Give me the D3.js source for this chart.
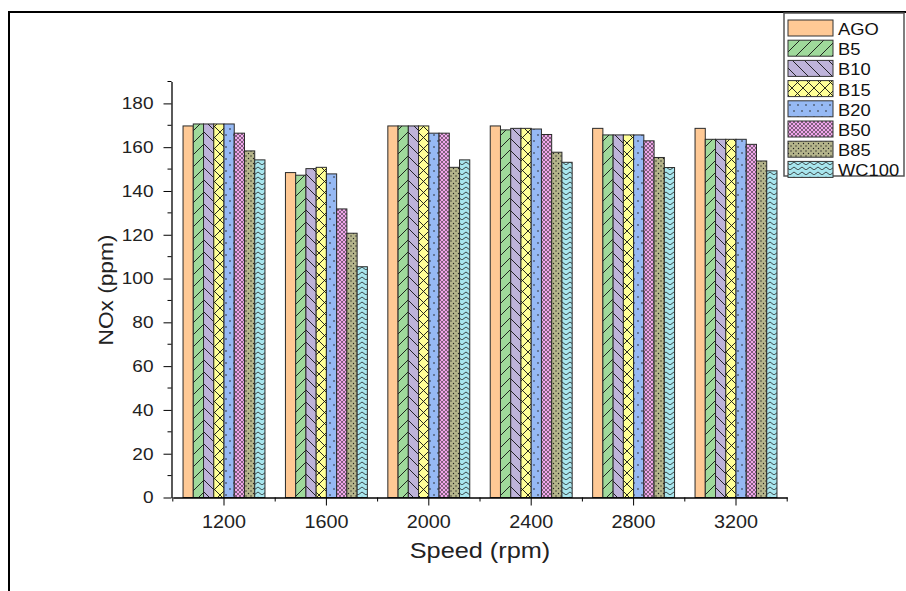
<!DOCTYPE html>
<html>
<head>
<meta charset="utf-8">
<script src="https://cdn.jsdelivr.net/npm/d3@7"></script>
<style>
  body { margin: 0; background: #fff; }
  text { font-family: "Liberation Sans", Arial, sans-serif; fill: #222; }
</style>
</head>
<body>
<div id="chart"></div>
<script>
var speeds = ["1200", "1600", "2000", "2400", "2800", "3200"];
var fuels = ["AGO", "B5", "B10", "B15", "B20", "B50", "B85", "WC100"];
var AGO   = [169.7, 148.4, 169.7, 169.7, 168.6, 168.6];
var B5    = [170.6, 147.2, 169.7, 167.9, 165.6, 163.6];
var B10   = [170.6, 150.2, 169.7, 168.6, 165.6, 163.6];
var B15   = [170.6, 150.8, 169.7, 168.6, 165.6, 163.6];
var B20   = [170.6, 147.8, 166.4, 168.3, 165.6, 163.6];
var B50   = [166.4, 131.8, 166.4, 165.8, 162.9, 161.3];
var B85   = [158.3, 120.7, 150.8, 157.7, 155.3, 153.7];
var WC100 = [154.2, 105.4, 154.2, 153.1, 150.7, 149.2];
var yTicks = [0, 20, 40, 60, 80, 100, 120, 140, 160, 180];

var seriesValues = { AGO: AGO, B5: B5, B10: B10, B15: B15, B20: B20, B50: B50, B85: B85, WC100: WC100 };
var fills = {
    AGO: "#FFC995", B5: "#9FD99B", B10: "#BEB3DA", B15: "#FFFF96",
    B20: "#96B9F4", B50: "#F2A6EC", B85: "#B5B58B", WC100: "#A8E6EE"
};

var W = 906, H = 591;
var svg = d3.select("#chart").append("svg")
    .attr("width", W).attr("height", H);

// ---- patterns ----
var defs = svg.append("defs");
function pat(name, w, h) {
    var p = defs.append("pattern").attr("id", "p-" + name)
        .attr("patternUnits", "userSpaceOnUse")
        .attr("width", w).attr("height", h);
    p.append("rect").attr("width", w).attr("height", h).attr("fill", fills[name]);
    return p;
}
pat("AGO", 10, 10);
pat("B5", 12, 12).append("path").attr("d", "M-1,13 L13,-1 M-1,1 L1,-1 M11,13 L13,11")
    .attr("stroke", "#111").attr("stroke-width", 0.9);
pat("B10", 12, 12).append("path").attr("d", "M-1,-1 L13,13 M11,-1 L13,1 M-1,11 L1,13")
    .attr("stroke", "#111").attr("stroke-width", 0.9);
pat("B15", 11, 11).append("path").attr("d", "M0,0 L11,11 M11,0 L0,11")
    .attr("stroke", "#111").attr("stroke-width", 0.9);
var p20 = pat("B20", 8, 12);
p20.append("circle").attr("cx", 2).attr("cy", 3).attr("r", 0.8).attr("fill", "#222");
p20.append("circle").attr("cx", 6).attr("cy", 9).attr("r", 0.8).attr("fill", "#222");
pat("B50", 4, 4).append("path").attr("d", "M0,0 L4,4 M4,0 L0,4")
    .attr("stroke", "#333").attr("stroke-width", 0.6);
var p85 = pat("B85", 5, 5);
p85.append("circle").attr("cx", 1).attr("cy", 1).attr("r", 0.7).attr("fill", "#222");
p85.append("circle").attr("cx", 3.5).attr("cy", 3.5).attr("r", 0.7).attr("fill", "#222");
pat("WC100", 8, 5).append("path").attr("d", "M0,3.5 Q2,0.5 4,3.5 T8,3.5")
    .attr("fill", "none").attr("stroke", "#222").attr("stroke-width", 0.8);

// ---- outer frame ----
svg.append("rect").attr("x", 9).attr("y", 12).attr("width", 920).attr("height", 620)
    .attr("fill", "none").attr("stroke", "#000").attr("stroke-width", 2);

// ---- scales ----
var x0 = d3.scaleBand().domain(speeds).range([172.8, 787.2]).padding(0);
var x1 = d3.scaleBand().domain(fuels).range([0, x0.bandwidth() * 0.8]).padding(0);
var y = d3.scaleLinear().domain([0, 190]).range([497.5, 81.5]);

var g = svg.append("g");

// bars
fuels.forEach(function (f) {
    g.append("g").selectAll("rect")
        .data(seriesValues[f])
        .enter().append("rect")
        .attr("x", function (d, i) { return x0(speeds[i]) + x0.bandwidth() * 0.1 + x1(f); })
        .attr("y", function (d) { return y(d); })
        .attr("width", x1.bandwidth())
        .attr("height", function (d) { return y(0) - y(d); })
        .attr("fill", "url(#p-" + f + ")")
        .attr("stroke", "#2a2a2a")
        .attr("stroke-width", 1);
});

// y axis
var yAxis = g.append("g").attr("transform", "translate(171.5,0)")
    .call(d3.axisLeft(y).tickValues(yTicks).tickSize(8).tickPadding(10).tickSizeOuter(0));
yAxis.selectAll("text").style("font-size", "17px").attr("transform", "scale(1.12,1)")
    .attr("x", -18 / 1.12);
// minor y ticks
yAxis.selectAll(".minor").data(d3.range(10, 200, 20)).enter().append("line")
    .attr("class", "minor")
    .attr("x1", -4).attr("x2", 0)
    .attr("y1", function (d) { return y(d); }).attr("y2", function (d) { return y(d); })
    .attr("stroke", "#000");

// x axis
var xAxis = g.append("g").attr("transform", "translate(0," + y(0) + ")")
    .call(d3.axisBottom(x0).tickSize(8).tickPadding(10).tickSizeOuter(0));
xAxis.selectAll(".tick text").style("font-size", "18px").attr("transform", "scale(1.1,1)");
var bounds = speeds.map(function (s) { return x0(s); }).concat([x0.range()[1]]);
xAxis.selectAll(".minor").data(bounds).enter().append("line")
    .attr("class", "minor")
    .attr("x1", function (d) { return d; }).attr("x2", function (d) { return d; })
    .attr("y1", 0).attr("y2", 4)
    .attr("stroke", "#000");
svg.selectAll(".domain").attr("stroke", "#000").attr("stroke-width", 1.3);

// axis titles
svg.append("text").attr("transform", "translate(480,558) scale(1.15,1)")
    .attr("text-anchor", "middle")
    .style("font-size", "22px").text("Speed (rpm)");
svg.append("text").attr("transform", "translate(113,290) rotate(-90) scale(1.08,1)")
    .attr("text-anchor", "middle").style("font-size", "21px").text("NOx (ppm)");

// legend
var lg = svg.append("g");
lg.append("rect").attr("x", 784).attr("y", 13).attr("width", 120).attr("height", 163)
    .attr("fill", "#fff").attr("stroke", "#555").attr("stroke-width", 1.5);
fuels.forEach(function (f, i) {
    var yy = 20 + i * 20.2;
    lg.append("rect").attr("x", 788).attr("y", yy).attr("width", 45).attr("height", 16)
        .attr("fill", "url(#p-" + f + ")").attr("stroke", "#333").attr("stroke-width", 1);
    lg.append("text").attr("transform", "translate(838," + (yy + 15) + ") scale(1.08,1)")
        .style("font-size", "17px").style("fill", "#111").text(f);
});
</script>
</body>
</html>
